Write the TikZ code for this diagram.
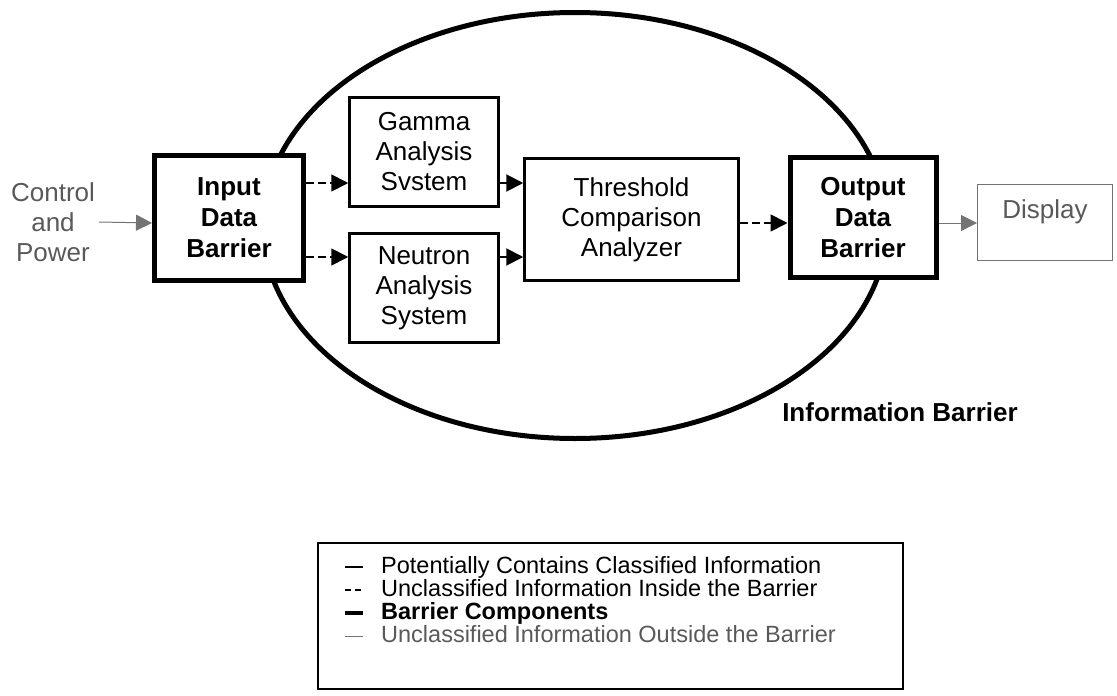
\documentclass[tikz,border=0pt]{standalone}
\usepackage{fontspec}
\setmainfont{Liberation Sans}
\usetikzlibrary{arrows.meta,calc,shapes.geometric}
\tikzset{
  txt/.style={font=\fontsize{26}{30}\selectfont, align=center},
  barrier/.style={draw, line width=5pt, fill=white, inner sep=0pt, align=center,
    font=\fontsize{26}{31}\selectfont\bfseries},
  proc/.style={draw, line width=2.5pt, fill=white, inner sep=0pt, txt},
  ext/.style={draw=black!55, line width=1pt, fill=white, inner sep=0pt},
  tip/.style={-{Triangle[length=17pt,width=17pt]}},
  inflow/.style={tip, line width=1.8pt, dash pattern=on 8pt off 4pt},
  clsflow/.style={tip, line width=2pt},
  outflow/.style={-{Triangle[length=16pt,width=16pt]}, color=black!55, line width=1pt},
  legtxt/.style={anchor=west, inner sep=0pt, text height=16pt, text depth=4pt,
    font=\fontsize{23.5}{27}\selectfont},
}
\begin{document}
\begin{tikzpicture}[x=1pt,y=-1pt]
\useasboundingbox (0,0) rectangle (1117,696);

% information barrier ellipse
\node[draw, ellipse, line width=5pt, inner sep=0pt,
      minimum width=624pt, minimum height=426pt] (ib) at (575,225.5) {};
\node[inner sep=0pt, font=\fontsize{26}{30}\selectfont\bfseries] (ibl) at (900,412) {Information Barrier};

% components
\node[txt, text=black!65, inner sep=4pt] (ctrl) at (53,222) {Control\\and\\Power};
\node[barrier, minimum width=149pt, minimum height=125pt] (inp) at (229,218) {Input\\Data\\Barrier};
\node[proc, minimum width=149pt, minimum height=109pt] (gam) at (424,152) {Gamma\\Analysis\\Svstem};
\node[proc, minimum width=149pt, minimum height=109pt] (neu) at (424,288) {Neutron\\Analysis\\System};
\node[proc, minimum width=214pt, minimum height=122pt] (thr) at (631.5,219.5) {Threshold\\Comparison\\Analyzer};
\node[barrier, minimum width=146pt, minimum height=120pt] (out) at (863,217.5) {Output\\Data\\Barrier};
\node[ext, minimum width=135pt, minimum height=76pt] (disp) at (1045,222) {};
\node[txt, text=black!65, inner sep=0pt] (dispt) at (1045,212) {Display};

% connector heights
\coordinate (ya) at (0,183);
\coordinate (yb) at (0,257);
\coordinate (yc) at (0,223);

\draw[outflow] (ctrl.east) -- (inp.west |- yc);
\draw[inflow] (inp.east |- ya) -- (gam.west |- ya);
\draw[inflow] (inp.east |- yb) -- (neu.west |- yb);
\draw[clsflow] (gam.east |- ya) -- (thr.west |- ya);
\draw[clsflow] (neu.east |- yb) -- (thr.west |- yb);
\draw[inflow] (thr.east |- yc) -- (out.west |- yc);
\draw[outflow] (out.east |- yc) -- (disp.west |- yc);

% legend
\node[draw, line width=2pt, minimum width=585pt, minimum height=146pt, inner sep=0pt] (leg) at (610.5,616) {};
\coordinate (s1) at (345,567);
\coordinate (s2) at (345,590);
\coordinate (s3) at (345,613);
\coordinate (s4) at (345,636);
\draw[line width=2.5pt] (s1) -- ++(18,0);
\draw[line width=1.8pt, dash pattern=on 6pt off 4pt] (s2) -- ++(18,0);
\draw[line width=4.5pt] (s3) -- ++(18,0);
\draw[line width=1pt, black!55] (s4) -- ++(18,0);
\node[legtxt] (t1) at (381,567) {Potentially Contains Classified Information};
\node[legtxt] (t2) at (381,590) {Unclassified Information Inside the Barrier};
\node[legtxt, font=\fontsize{23.5}{27}\selectfont\bfseries] (t3) at (381,613) {Barrier Components};
\node[legtxt, text=black!65] (t4) at (381,636) {Unclassified Information Outside the Barrier};
\end{tikzpicture}
\end{document}
